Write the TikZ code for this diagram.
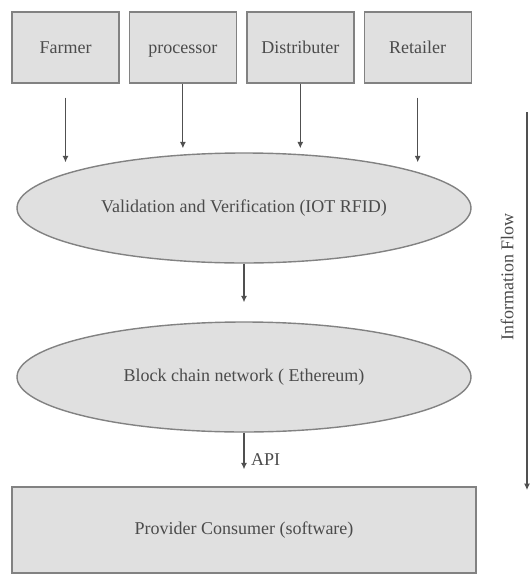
\documentclass[tikz,border=0pt]{standalone}
\usepackage{fontspec}
\setmainfont{Liberation Serif}
\usepackage{xcolor}
\definecolor{boxfill}{RGB}{224,224,224}
\definecolor{boxline}{RGB}{130,130,130}
\definecolor{txtgray}{RGB}{75,75,75}
\definecolor{arrowgray}{RGB}{80,80,80}
\usepackage{tikz}
\usetikzlibrary{arrows.meta,positioning,shapes.geometric}

\begin{document}
\begin{tikzpicture}[
  x=0.5pt,y=-0.5pt,
  node distance=4.5pt,
  font=\fontsize{9}{10.5}\selectfont,
  actor/.style={draw=boxline,line width=0.7pt,fill=boxfill,text=txtgray,
    minimum width=53.5pt,minimum height=35.5pt,inner sep=0pt,
    text height=1.6ex,text depth=0.3ex},
  layer/.style={ellipse,draw=boxline,line width=0.7pt,fill=boxfill,text=txtgray,
    minimum width=227pt,minimum height=55pt,inner sep=0pt},
  sink/.style={draw=boxline,line width=0.7pt,fill=boxfill,text=txtgray,
    minimum width=232pt,minimum height=43pt,inner sep=0pt},
  arrow/.style={-{Latex[length=3.2pt,width=3pt]},line width=0.55pt,arrowgray}
]
\useasboundingbox (0,0) rectangle (530,574);
% actors
\node[actor] (farmer) at (65.5,47.5) {Farmer};
\node[actor,right=of farmer] (proc) {processor};
\node[actor,right=of proc] (dist) {Distributer};
\node[actor,right=of dist] (retail) {Retailer};
% layers
\node[layer] (valid) at (244,208) {Validation and Verification (IOT RFID)};
\node[layer] (chain) at (244,377) {Block chain network ( Ethereum)};
\node[sink] (consumer) at (244,530) {Provider Consumer (software)};
% flow
\coordinate (flowtop) at (527,112);
\coordinate (flowbot) at (527,490);
\node[rotate=90,text=txtgray] (flowlabel) at (507,277) {Information Flow};

\draw[arrow,shorten <=7pt,shorten >=-5pt] (farmer.south) -- (farmer.south |- valid.north);
\draw[arrow,shorten >=2pt] (proc.south) -- (proc.south |- valid.north);
\draw[arrow,shorten >=2pt] (dist.south) -- (dist.south |- valid.north);
\draw[arrow,shorten <=7pt,shorten >=-5pt] (retail.south) -- (retail.south |- valid.north);
\draw[arrow,shorten >=9.5pt] (valid.south) -- (chain.north);
\draw[arrow,shorten >=8.5pt] (chain.south) -- node[right,text=txtgray] (api) {API} (consumer.north);
\draw[arrow] (flowtop) -- (flowbot);
\end{tikzpicture}
\end{document}
